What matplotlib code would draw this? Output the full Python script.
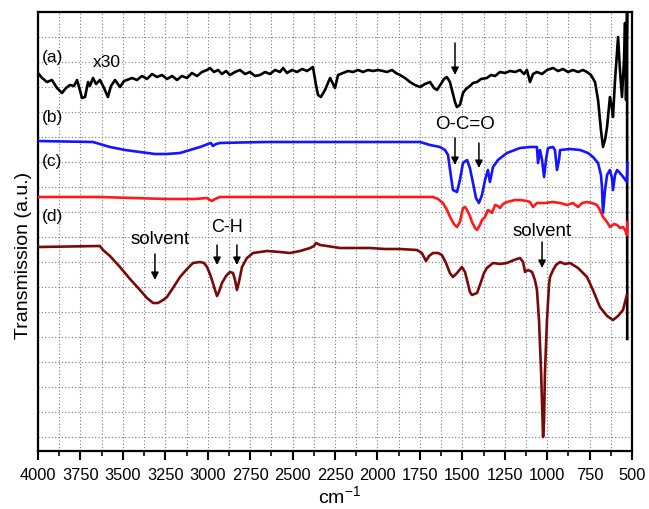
import matplotlib
matplotlib.use("Agg")
import matplotlib.pyplot as plt
from matplotlib.ticker import MultipleLocator

plt.rcParams['font.family'] = ['Liberation Sans', 'DejaVu Sans']
plt.rcParams['mathtext.default'] = 'regular'

# FTIR spectra, wavenumber (cm-1) vs offset transmission (a.u.)
wn_a = [4000, 3976, 3947, 3918, 3888, 3859, 3835, 3811, 3788, 3770, 3753, 3741, 3723, 3705,
        3694, 3676, 3658, 3635, 3611, 3588, 3570, 3546, 3529, 3517, 3493, 3476, 3446, 3417,
        3387, 3358, 3328, 3299, 3269, 3240, 3210, 3181, 3152, 3122, 3093, 3063, 3034, 3004,
        2987, 2963, 2939, 2916, 2892, 2869, 2839, 2810, 2780, 2751, 2721, 2692, 2662, 2633,
        2603, 2574, 2556, 2533, 2503, 2474, 2444, 2415, 2380, 2362, 2350, 2333, 2309, 2279,
        2250, 2232, 2203, 2173, 2144, 2114, 2085, 2056, 2026, 1997, 1967, 1944, 1914, 1891,
        1867, 1838, 1808, 1779, 1749, 1720, 1690, 1667, 1649, 1626, 1608, 1591, 1573, 1561,
        1543, 1532, 1514, 1496, 1478, 1455, 1437, 1413, 1390, 1355, 1331, 1307, 1278, 1248,
        1219, 1189, 1160, 1136, 1119, 1101, 1083, 1060, 1030, 1001, 965, 936, 907, 877, 848,
        818, 789, 765, 742, 718, 700, 683, 671, 659, 647, 635, 630, 618, 612, 600, 582, 571,
        559, 547, 541, 535, 529, 528]
t_a = [14.56, 14.36, 14.20, 14.28, 13.96, 13.76, 13.96, 14.08, 14.04, 14.28, 13.88, 13.56, 13.60, 14.20,
       14.04, 14.36, 14.12, 14.28, 13.96, 13.60, 14.04, 14.28, 14.12, 14.00, 14.24, 14.28, 14.36, 14.28,
       14.44, 14.32, 14.52, 14.40, 14.48, 14.32, 14.44, 14.28, 14.44, 14.36, 14.56, 14.44, 14.60, 14.68,
       14.76, 14.60, 14.68, 14.52, 14.64, 14.48, 14.60, 14.68, 14.52, 14.60, 14.44, 14.48, 14.60, 14.52,
       14.68, 14.60, 14.76, 14.56, 14.68, 14.60, 14.72, 14.64, 14.80, 14.08, 13.68, 13.60, 13.88, 14.36,
       13.96, 14.48, 14.56, 14.64, 14.60, 14.68, 14.60, 14.68, 14.64, 14.68, 14.64, 14.60, 14.68, 14.56,
       14.48, 14.36, 14.20, 14.08, 14.00, 14.12, 14.20, 13.96, 13.88, 14.12, 14.32, 14.40, 14.20, 13.88,
       13.40, 13.20, 13.28, 13.76, 13.92, 14.04, 14.16, 14.20, 14.32, 14.36, 14.48, 14.44, 14.60, 14.56,
       14.64, 14.60, 14.68, 14.52, 14.68, 14.20, 14.52, 14.60, 14.52, 14.68, 14.76, 14.64, 14.72, 14.60, 14.68,
       14.60, 14.68, 14.60, 14.48, 14.20, 13.48, 12.28, 11.60, 11.88, 12.40, 13.28, 13.60, 13.16, 12.80, 14.28, 16.00, 14.68,
       13.60, 15.08, 16.56, 13.48, 17.00, 3.92]

wn_b = [4000, 3676, 3576, 3487, 3399, 3311, 3240, 3163, 3104, 3045, 2998, 2981, 2969, 2951,
        2928, 2810, 2651, 2279, 1749, 1690, 1631, 1602, 1584, 1572, 1555, 1531, 1514, 1496,
        1472, 1455, 1437, 1419, 1402, 1384, 1366, 1349, 1337, 1319, 1290, 1237, 1160, 1101,
        1060, 1054, 1042, 1030, 1018, 1007, 995, 965, 954, 942, 930, 924, 865, 806, 759, 730,
        700, 683, 677, 671, 659, 647, 630, 618, 612, 600, 588, 571, 547, 530, 527]
t_b = [11.84, 11.80, 11.60, 11.48, 11.40, 11.32, 11.32, 11.36, 11.48, 11.60, 11.72, 11.76, 11.64, 11.72,
       11.76, 11.78, 11.80, 11.80, 11.80, 11.68, 11.60, 11.48, 11.28, 10.68, 9.88, 9.80, 10.28, 10.96,
       11.08, 10.76, 10.16, 9.56, 9.36, 9.68, 10.28, 10.68, 10.20, 10.80, 11.08, 11.36, 11.56, 11.60,
       11.60, 10.96, 11.48, 11.08, 10.40, 11.08, 11.56, 11.60, 11.48, 10.68, 11.08, 11.48, 11.52, 11.48, 11.36, 11.20,
       10.96, 10.48, 10.00, 8.96, 9.88, 10.48, 10.68, 10.36, 9.88, 10.48, 10.68, 10.56, 10.36, 10.20, 10.96]

wn_c = [4000, 3635, 3440, 3240, 3075, 3004, 2987, 2975, 2957, 2928, 2279, 1673, 1643, 1614,
        1590, 1572, 1549, 1531, 1514, 1496, 1484, 1472, 1455, 1443, 1425, 1413, 1396, 1384,
        1366, 1349, 1337, 1325, 1307, 1290, 1278, 1260, 1237, 1189, 1160, 1119, 1101, 1083,
        1060, 1013, 965, 924, 883, 848, 818, 794, 765, 736, 706, 689, 671, 647, 630, 606,
        588, 571, 553, 541, 530, 527]
t_c = [9.60, 9.60, 9.56, 9.52, 9.52, 9.56, 9.48, 9.44, 9.52, 9.60, 9.60, 9.60, 9.52, 9.36,
       9.08, 8.80, 8.52, 8.40, 8.60, 9.16, 9.20, 9.08, 8.84, 8.60, 8.36, 8.28, 8.48, 8.68,
       8.80, 9.08, 9.04, 8.96, 9.28, 9.24, 9.16, 9.32, 9.40, 9.48, 9.48, 9.44, 9.40, 9.20,
       9.36, 9.36, 9.40, 9.36, 9.28, 9.36, 9.20, 9.36, 9.40, 9.36, 9.28, 9.08, 8.80, 8.60, 8.40, 8.52,
       8.48, 8.36, 8.40, 8.28, 8.08, 8.60]

wn_d = [4000, 3635, 3617, 3576, 3517, 3458, 3399, 3358, 3322, 3293, 3263, 3240, 3205, 3163,
        3122, 3087, 3045, 3022, 3004, 2987, 2975, 2957, 2945, 2934, 2916, 2892, 2869, 2851,
        2839, 2828, 2816, 2798, 2769, 2733, 2692, 2651, 2574, 2515, 2456, 2397, 2374, 2362,
        2338, 2297, 2221, 2044, 1956, 1867, 1767, 1738, 1714, 1696, 1673, 1643, 1620, 1596,
        1573, 1555, 1531, 1502, 1484, 1472, 1455, 1443, 1413, 1396, 1372, 1355, 1319, 1278,
        1237, 1195, 1160, 1142, 1130, 1113, 1089, 1072, 1060, 1048, 1036, 1024, 1018, 1013,
        1001, 989, 983, 965, 948, 924, 895, 865, 818, 765, 730, 689, 647, 612, 582, 553, 535, 530]
t_d = [7.60, 7.64, 7.48, 7.24, 6.80, 6.32, 5.88, 5.56, 5.36, 5.36, 5.48, 5.60, 5.96, 6.40,
       6.72, 6.96, 7.00, 6.96, 6.80, 6.52, 6.28, 5.88, 5.64, 5.80, 6.16, 6.44, 6.60, 6.56,
       6.28, 5.88, 6.20, 6.80, 7.16, 7.36, 7.40, 7.44, 7.40, 7.36, 7.44, 7.56, 7.64, 7.76,
       7.68, 7.64, 7.56, 7.56, 7.52, 7.52, 7.48, 7.36, 7.04, 7.24, 7.36, 7.36, 7.28, 6.96,
       6.56, 6.40, 6.56, 6.80, 6.60, 6.28, 5.80, 5.68, 5.76, 6.08, 6.56, 6.76, 6.96, 6.92,
       6.96, 7.08, 7.16, 7.00, 6.60, 6.68, 6.60, 6.28, 5.88, 4.68, 2.68, 0.00, 0.68, 2.56,
       4.68, 6.08, 6.40, 6.68, 6.88, 7.00, 6.92, 6.96, 6.76, 6.40, 5.88, 5.20, 4.84, 4.68, 4.84, 5.08, 5.56, 5.68]

series = [
    (wn_a, t_a, '#000000'),
    (wn_b, t_b, '#1414ff'),
    (wn_c, t_c, '#ff1a1a'),
    (wn_d, t_d, '#7a0a0a'),
]

x_ticks = [4000, 3750, 3500, 3250, 3000, 2750, 2500, 2250, 2000, 1750, 1500, 1250, 1000, 750, 500]

fig = plt.figure(figsize=(6.49, 5.09), dpi=100)
ax = fig.add_axes([38 / 649, 58 / 509, 594 / 649, 439 / 509])

for wn, t, col in series:
    ax.plot(wn, t, color=col, lw=1.9, solid_joinstyle='round', zorder=3)

ax.set_xlim(4000, 500)
ax.set_ylim(-0.56, 17.0)
ax.set_xticks(x_ticks)
ax.set_xticklabels([str(v) for v in x_ticks])
ax.xaxis.set_minor_locator(MultipleLocator(125))
ax.yaxis.set_major_locator(MultipleLocator(1))
ax.tick_params(axis='x', which='major', direction='out', length=6.5, width=1.5,
               labelsize=11.8, pad=6)
ax.tick_params(axis='x', which='minor', direction='out', length=3.5, width=1.2)
ax.tick_params(axis='y', which='both', left=False, labelleft=False)
ax.grid(True, which='both', axis='x', color='#7a7a7a', lw=0.8, linestyle=(0, (1, 2)))
ax.grid(True, which='major', axis='y', color='#7a7a7a', lw=0.8, linestyle=(0, (1, 2)))
ax.set_axisbelow(True)
for s in ax.spines.values():
    s.set_linewidth(1.6)

fig.text(24 / 649, 1 - 255 / 509, 'Transmission (a.u.)', rotation=90,
         ha='center', va='center', fontsize=14)
fig.text(340 / 649, 6 / 509, 'cm$^{-1}$', ha='center', va='baseline', fontsize=14)

# Trace labels
for lbl, y in [('(a)', 15.16), ('(b)', 12.76), ('(c)', 11.0), ('(d)', 8.8)]:
    ax.text(3978, y, lbl, ha='left', va='center', fontsize=12.5)
ax.text(3680, 14.96, 'x30', ha='left', va='center', fontsize=12.5)

arrow = dict(arrowstyle='-|>', color='black', lw=1.1, mutation_scale=11, shrinkA=0, shrinkB=0)

def mark(x, y0, y1):
    ax.annotate('', xy=(x, y1), xytext=(x, y0), arrowprops=arrow, zorder=5)

mark(1543, 15.76, 14.48)
ax.text(1484, 12.48, 'O-C=O', ha='center', va='center', fontsize=13.5)
mark(1543, 11.96, 10.88)
mark(1402, 11.76, 10.76)

ax.text(3281, 7.88, 'solvent', ha='center', va='center', fontsize=13.5)
mark(3311, 7.32, 6.28)

ax.text(2886, 8.36, 'C-H', ha='center', va='center', fontsize=13)
mark(2945, 7.68, 6.88)
mark(2828, 7.68, 6.88)

ax.text(1030, 8.2, 'solvent', ha='center', va='center', fontsize=13.5)
mark(1030, 7.8, 6.76)

fig.savefig('out.png', dpi=100)
